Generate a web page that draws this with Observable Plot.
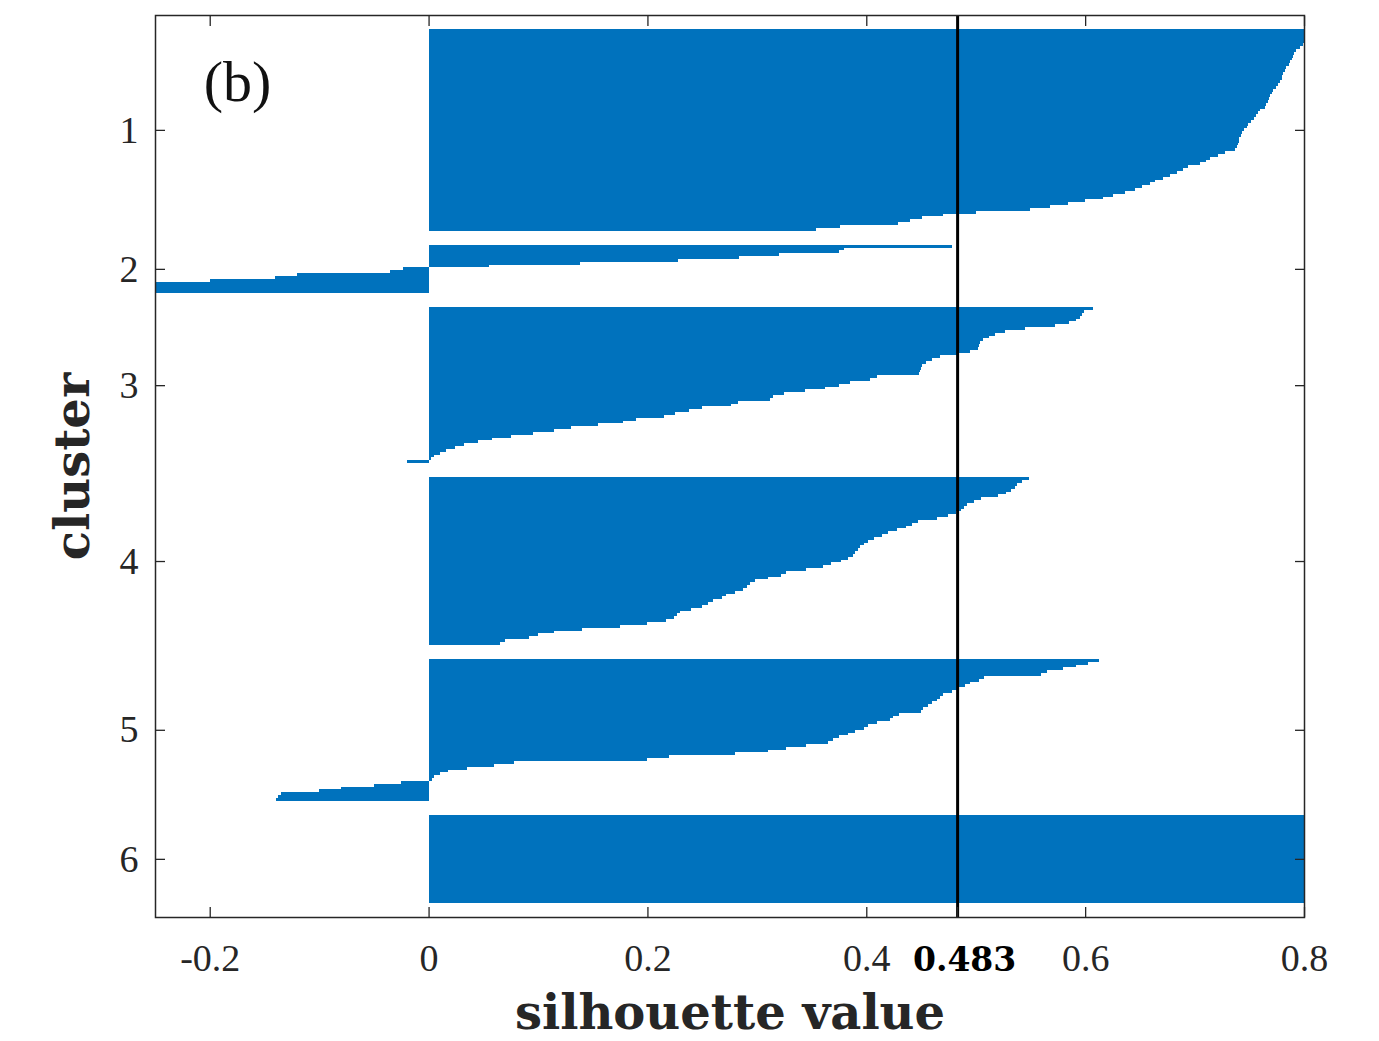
<!DOCTYPE html>
<html><head><meta charset="utf-8">
<script src="https://cdn.jsdelivr.net/npm/d3@7"></script>
<script src="https://cdn.jsdelivr.net/npm/@observablehq/plot@0.6"></script>
<style>body{margin:0;background:#fff}#chart svg{display:block}</style>
</head><body><div id="chart"></div>
<script>
// Cluster tick labels
const clusterNames = ["1", "2", "3", "4", "5", "6"];

// Silhouette values per cluster (sorted descending)
const cluster1 = [0.83, 0.82, 0.815, 0.81, 0.805, 0.799, 0.796, 0.793, 0.791, 0.79,
  0.789, 0.787, 0.786, 0.784, 0.783, 0.781, 0.78, 0.78, 0.778, 0.776,
  0.774, 0.772, 0.771, 0.769, 0.768, 0.767, 0.765, 0.764, 0.76, 0.758,
  0.756, 0.754, 0.752, 0.749, 0.748, 0.745, 0.743, 0.742, 0.741, 0.741,
  0.74, 0.739, 0.737, 0.728, 0.721, 0.714, 0.71, 0.705, 0.694, 0.689,
  0.684, 0.678, 0.671, 0.664, 0.659, 0.652, 0.646, 0.636, 0.625, 0.616,
  0.6, 0.584, 0.568, 0.55, 0.5, 0.47, 0.451, 0.44, 0.429, 0.376, 0.354];
const cluster2 = [0.478, 0.38, 0.375, 0.32, 0.284, 0.228, 0.138, 0.055,
  -0.023, -0.035, -0.12, -0.14, -0.2, -0.26, -0.27, -0.28, -0.29];
const cluster3 = [0.607, 0.599, 0.597, 0.595, 0.592, 0.585, 0.572, 0.545, 0.527, 0.518,
  0.512, 0.507, 0.504, 0.503, 0.502, 0.495, 0.483, 0.467, 0.46, 0.455,
  0.451, 0.45, 0.449, 0.448, 0.41, 0.403, 0.385, 0.375, 0.362, 0.344,
  0.325, 0.315, 0.312, 0.283, 0.276, 0.25, 0.238, 0.225, 0.215, 0.19,
  0.178, 0.155, 0.13, 0.115, 0.095, 0.075, 0.058, 0.045, 0.032, 0.024,
  0.016, 0.01, 0.005, 0.002, -0.02];
const cluster4 = [0.549, 0.542, 0.538, 0.536, 0.532, 0.528, 0.52, 0.505, 0.498, 0.492,
  0.489, 0.487, 0.482, 0.475, 0.465, 0.447, 0.442, 0.436, 0.428, 0.42,
  0.414, 0.407, 0.402, 0.398, 0.394, 0.392, 0.39, 0.388, 0.383, 0.377,
  0.368, 0.36, 0.345, 0.327, 0.322, 0.31, 0.298, 0.294, 0.291, 0.287,
  0.28, 0.272, 0.268, 0.26, 0.255, 0.25, 0.24, 0.23, 0.227, 0.224,
  0.217, 0.2, 0.175, 0.14, 0.115, 0.1, 0.092, 0.07, 0.065];
const cluster5 = [0.613, 0.603, 0.592, 0.58, 0.565, 0.56, 0.508, 0.503, 0.495, 0.49,
  0.485, 0.478, 0.47, 0.467, 0.465, 0.46, 0.456, 0.452, 0.45, 0.43,
  0.424, 0.422, 0.41, 0.402, 0.398, 0.39, 0.383, 0.375, 0.37, 0.365,
  0.345, 0.327, 0.31, 0.28, 0.22, 0.2, 0.078, 0.06, 0.035, 0.018,
  0.01, 0.005, 0.003, -0.025, -0.05, -0.08, -0.1, -0.135, -0.138, -0.139];
const cluster6 = [1, 1, 1, 1, 1, 1, 1, 1, 1, 1,
  1, 1, 1, 1, 1, 1, 1, 1, 1, 1,
  1, 1, 1, 1, 1, 1, 1, 1, 1, 1, 1];

const meanSilhouette = 0.483;
const xTicks = [-0.2, 0, 0.2, 0.4, 0.6, 0.8];

// Build bar rows (MATLAB silhouette layout: gaps of `space` rows between clusters)
const clusters = [cluster1, cluster2, cluster3, cluster4, cluster5, cluster6];
const n = d3.sum(clusters, c => c.length);
const space = Math.max(Math.floor(0.02 * n), 2);
const rows = [];
const centers = [];
let pos = space;
clusters.forEach((vals, ci) => {
  const start = pos;
  vals.forEach(v => {
    rows.push({cluster: clusterNames[ci], value: v, y1: pos, y2: pos + 1});
    pos += 1;
  });
  centers.push((start + pos) / 2);
  pos += space;
});
const total = pos;

const axisColor = "#262626";
const serif = "'Liberation Serif', serif";
const boldSerif = "'DejaVu Serif', serif";

const chart = Plot.plot({
  width: 1379,
  height: 1041,
  marginLeft: 155,
  marginRight: 75,
  marginTop: 15,
  marginBottom: 124,
  style: {background: "white"},
  x: {domain: [-0.25, 0.8]},
  y: {domain: [0, total], reverse: true},
  marks: [
    Plot.rect(rows, {x1: d => 0, x2: "value", y1: "y1", y2: "y2", fill: "#0072BD", clip: true, shapeRendering: "crispEdges"}),
    Plot.ruleX([meanSilhouette], {stroke: "black", strokeWidth: 3}),
    // inward ticks
    Plot.axisX(xTicks.concat([meanSilhouette]), {anchor: "bottom", tickSize: -10, fill: "none", stroke: axisColor, strokeWidth: 1.3, label: null}),
    Plot.axisX(xTicks, {anchor: "top", tickSize: -10, fill: "none", stroke: axisColor, strokeWidth: 1.3, label: null}),
    Plot.axisY(centers, {anchor: "left", tickSize: -10, fill: "none", stroke: axisColor, strokeWidth: 1.3, label: null}),
    Plot.axisY(centers, {anchor: "right", tickSize: -10, fill: "none", stroke: axisColor, strokeWidth: 1.3, label: null}),
    // tick labels
    Plot.axisX(xTicks, {anchor: "bottom", tickSize: 0, tickPadding: 27, fontSize: 38, fontFamily: serif, fill: axisColor, label: null, tickFormat: d => String(d)}),
    Plot.axisX([meanSilhouette], {anchor: "bottom", tickSize: 0, tickPadding: 30, fontSize: 33, fontFamily: boldSerif, fontWeight: "bold", fill: "#000", dx: 7, label: null, tickFormat: d => d.toFixed(3)}),
    Plot.axisY(centers, {anchor: "left", tickSize: 0, tickPadding: 17, fontSize: 38, fontFamily: serif, fill: axisColor, label: null, tickFormat: d => clusterNames[centers.indexOf(d)]}),
    Plot.frame({stroke: axisColor, strokeWidth: 1.5}),
    // titles
    Plot.text(["(b)"], {text: d => d, frameAnchor: "top-left", dx: 82, dy: 67, fontSize: 58, fontFamily: serif, textAnchor: "middle", lineAnchor: "middle", fill: "#111"}),
    Plot.text(["silhouette value"], {text: d => d, frameAnchor: "bottom", dy: 96, fontSize: 48, fontFamily: boldSerif, fontWeight: "bold", lineAnchor: "middle", fill: axisColor}),
    Plot.text(["cluster"], {text: d => d, frameAnchor: "left", dx: -82, rotate: -90, fontSize: 48, fontFamily: boldSerif, fontWeight: "bold", lineAnchor: "middle", textAnchor: "middle", fill: axisColor})
  ]
});
document.getElementById("chart").appendChild(chart);
</script>
</body></html>
